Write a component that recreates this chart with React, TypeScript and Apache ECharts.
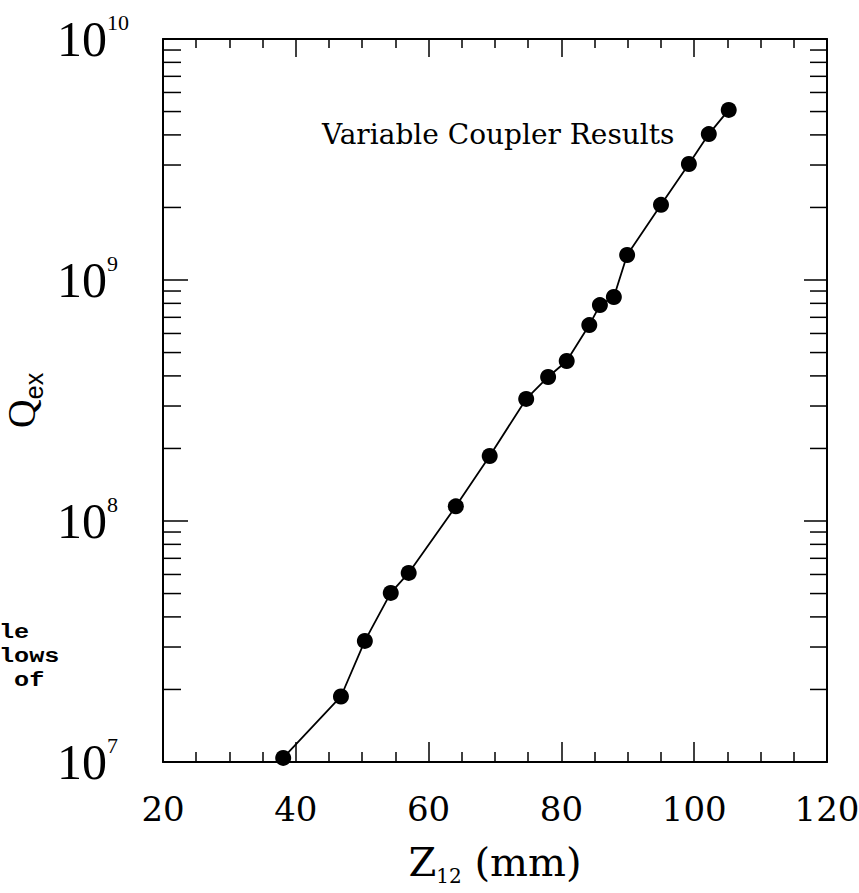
import React, { useEffect, useRef } from "react";
import * as echarts from "echarts";

// Z12 (mm) positions of the measured points
const zValues = [38.1, 46.8, 50.4, 54.3, 57.0, 64.1, 69.2, 74.7, 78.0, 80.8, 84.2, 85.8, 87.9, 89.9, 95.0, 99.2, 102.2, 105.2];
// Qex values
const qValues = [1.04e7, 1.87e7, 3.18e7, 5.03e7, 6.09e7, 1.15e8, 1.86e8, 3.21e8, 3.96e8, 4.61e8, 6.5e8, 7.87e8, 8.5e8, 1.27e9, 2.05e9, 3.03e9, 4.03e9, 5.08e9];

const xMin = 20;
const xMax = 120;
const xInterval = 20;
const yMin = 1e7;
const yMax = 1e10;
const decadeStarts = [1e7, 1e8, 1e9];
const minorMantissas = [2, 3, 4, 5, 6, 7, 8, 9];

const annotationText = "Variable Coupler Results";
const clippedLines = ["le", "lows", " of"];

export default function App() {
  const ref = useRef<HTMLDivElement>(null);

  useEffect(() => {
    if (!ref.current) return;
    const chart = echarts.init(ref.current, null, { renderer: "svg" });

    const minorTicks: number[][] = [];
    decadeStarts.forEach((d) => minorMantissas.forEach((m) => minorTicks.push([xMin, d * m])));

    const serif = '"DejaVu Serif", serif';
    const times = '"Liberation Serif", serif';

    const option: any = {
      animation: false,
      backgroundColor: "#fff",
      grid: { left: 163, top: 39, width: 664, height: 723, containLabel: false, outerBoundsMode: "none" },
      xAxis: [
        {
          type: "value",
          min: xMin,
          max: xMax,
          interval: xInterval,
          position: "bottom",
          name: "{z|Z}{sub|12}{z| (mm)}",
          nameLocation: "middle",
          nameGap: 80,
          nameTextStyle: {
            rich: {
              z: { fontFamily: serif, fontSize: 40, color: "#000", verticalAlign: "bottom" },
              sub: { fontFamily: serif, fontSize: 20, color: "#000", verticalAlign: "bottom", padding: [0, 0, -4, 0] },
            },
          },
          axisLine: { show: true, lineStyle: { color: "#000", width: 2 } },
          axisTick: { show: true, inside: true, length: 20, lineStyle: { color: "#000", width: 1.5 } },
          minorTick: { show: true, splitNumber: 4, length: 10, lineStyle: { color: "#000", width: 1.5 } },
          axisLabel: { show: true, margin: 30, fontFamily: serif, fontSize: 34, color: "#000" },
          splitLine: { show: false },
          minorSplitLine: { show: false },
        },
        {
          type: "value",
          min: xMin,
          max: xMax,
          interval: xInterval,
          position: "top",
          axisLine: { show: true, lineStyle: { color: "#000", width: 2 } },
          axisTick: { show: true, inside: true, length: 18, lineStyle: { color: "#000", width: 1.5 } },
          minorTick: { show: true, splitNumber: 4, length: 9, lineStyle: { color: "#000", width: 1.5 } },
          axisLabel: { show: false },
          splitLine: { show: false },
        },
      ],
      yAxis: [
        {
          type: "log",
          logBase: 10,
          min: yMin,
          max: yMax,
          position: "left",
          name: "{q|Q}{e|ex}",
          nameLocation: "middle",
          nameRotate: 90,
          nameGap: 119,
          nameTextStyle: {
            rich: {
              q: { fontFamily: times, fontSize: 40, color: "#000", verticalAlign: "bottom" },
              e: { fontFamily: '"Liberation Sans", sans-serif', fontSize: 25, color: "#000", verticalAlign: "bottom", padding: [0, 0, -5, 0] },
            },
          },
          axisLine: { show: true, lineStyle: { color: "#000", width: 2 } },
          axisTick: { show: true, inside: true, length: 25, lineStyle: { color: "#000", width: 1.5 } },
          axisLabel: {
            show: true,
            margin: 106,
            align: "left",
            verticalAlign: "middle",
            formatter: (v: number) => `{b|10}{s|${Math.round(Math.log10(v))}}`,
            rich: {
              b: { fontFamily: times, fontSize: 50, color: "#000", verticalAlign: "bottom", lineHeight: 50 },
              s: { fontFamily: times, fontSize: 22, color: "#000", verticalAlign: "top", lineHeight: 50, padding: [-3, 0, 0, 0] },
            },
          },
          splitLine: { show: false },
        },
        {
          type: "log",
          logBase: 10,
          min: yMin,
          max: yMax,
          position: "right",
          axisLine: { show: true, lineStyle: { color: "#000", width: 2 } },
          axisTick: { show: true, inside: true, length: 23, lineStyle: { color: "#000", width: 1.5 } },
          axisLabel: { show: false },
          splitLine: { show: false },
        },
      ],
      series: [
        {
          type: "custom",
          xAxisIndex: 0,
          yAxisIndex: 0,
          silent: true,
          clip: false,
          z: 1,
          data: minorTicks,
          encode: { x: 0, y: 1 },
          renderItem: (params: any, api: any) => {
            const v = api.value(1);
            const l = api.coord([xMin, v]);
            const r = api.coord([xMax, v]);
            return {
              type: "group",
              children: [
                { type: "line", shape: { x1: l[0], y1: l[1], x2: l[0] + 18, y2: l[1] }, style: { stroke: "#000", lineWidth: 1.5 } },
                { type: "line", shape: { x1: r[0], y1: r[1], x2: r[0] - 17, y2: r[1] }, style: { stroke: "#000", lineWidth: 1.5 } },
              ],
            };
          },
        },
        {
          type: "line",
          xAxisIndex: 0,
          yAxisIndex: 0,
          data: zValues.map((z, i) => [z, qValues[i]]),
          symbol: "circle",
          symbolSize: 16,
          itemStyle: { color: "#000" },
          lineStyle: { color: "#000", width: 1.8 },
          z: 3,
        },
      ],
      graphic: [
        {
          type: "text",
          left: 322,
          top: 120,
          style: { text: annotationText, font: `28px ${serif}`, fill: "#000" },
        },
        ...clippedLines.map((t, i) => ({
          type: "text",
          x: -1,
          y: 622 + i * 24,
          scaleX: 1.2,
          style: { text: t, font: 'bold 21px "Liberation Mono", monospace', lineHeight: 22, fill: "#000" },
        })),
      ],
    };

    chart.setOption(option);
    return () => chart.dispose();
  }, []);

  return <div ref={ref} style={{ position: "absolute", left: 0, top: 0, width: 859, height: 893 }} />;
}
